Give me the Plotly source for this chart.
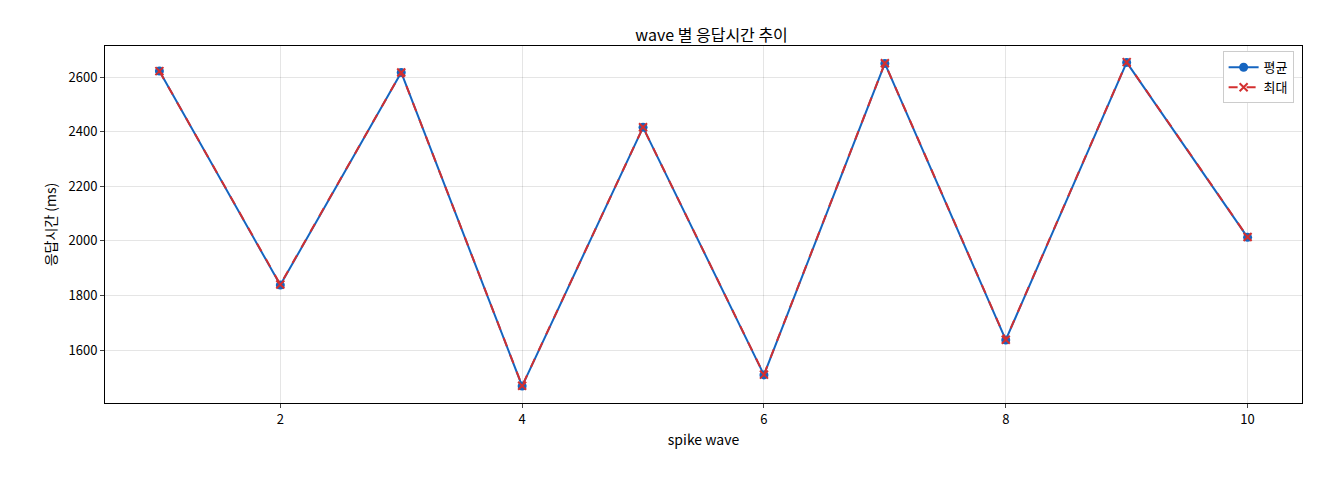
import plotly.graph_objects as go

waves = [1, 2, 3, 4, 5, 6, 7, 8, 9, 10]
avg_ms = [2622, 1838, 2617, 1468, 2416, 1509, 2650, 1637, 2654, 2013]
max_ms = [2622, 1840, 2617, 1469, 2416, 1510, 2651, 1638, 2655, 2014]

fig = go.Figure()
fig.add_trace(go.Scatter(x=waves, y=avg_ms, name="평균", mode="lines+markers",
                         line=dict(color="#1565c0", width=2), marker=dict(symbol="circle", size=9, color="#1565c0")))
fig.add_trace(go.Scatter(x=waves, y=max_ms, name="최대", mode="lines+markers",
                         line=dict(color="#d32f2f", width=2, dash="dash"), marker=dict(symbol="x-thin", size=8, line=dict(color="#d32f2f", width=2))))

ax = dict(showline=True, linecolor="black", mirror=True, ticks="outside", ticklen=4,
          gridcolor="rgba(0,0,0,0.1)", zeroline=False, tickfont=dict(size=13))
fig.update_layout(
    width=1320, height=480, plot_bgcolor="white", paper_bgcolor="white",
    font=dict(family="Noto Sans CJK KR", size=13, color="black"),
    title=dict(text="wave 별 응답시간 추이", x=0.533, xanchor="center", y=0.955, font=dict(size=16)),
    margin=dict(l=97, r=26, t=38, b=85, pad=0),
    xaxis=dict(ax, range=[0.55, 10.45], tickvals=[2, 4, 6, 8, 10], title=dict(text="spike wave", standoff=8, font=dict(size=14))),
    yaxis=dict(ax, range=[1406, 2714], tickvals=[1600, 1800, 2000, 2200, 2400, 2600], title=dict(text="응답시간 (ms)", standoff=8, font=dict(size=14))),
    legend=dict(x=0.993, y=0.985, xanchor="right", yanchor="top", bordercolor="#ccc", borderwidth=1, bgcolor="white"),
)
fig.write_html("out.html")
